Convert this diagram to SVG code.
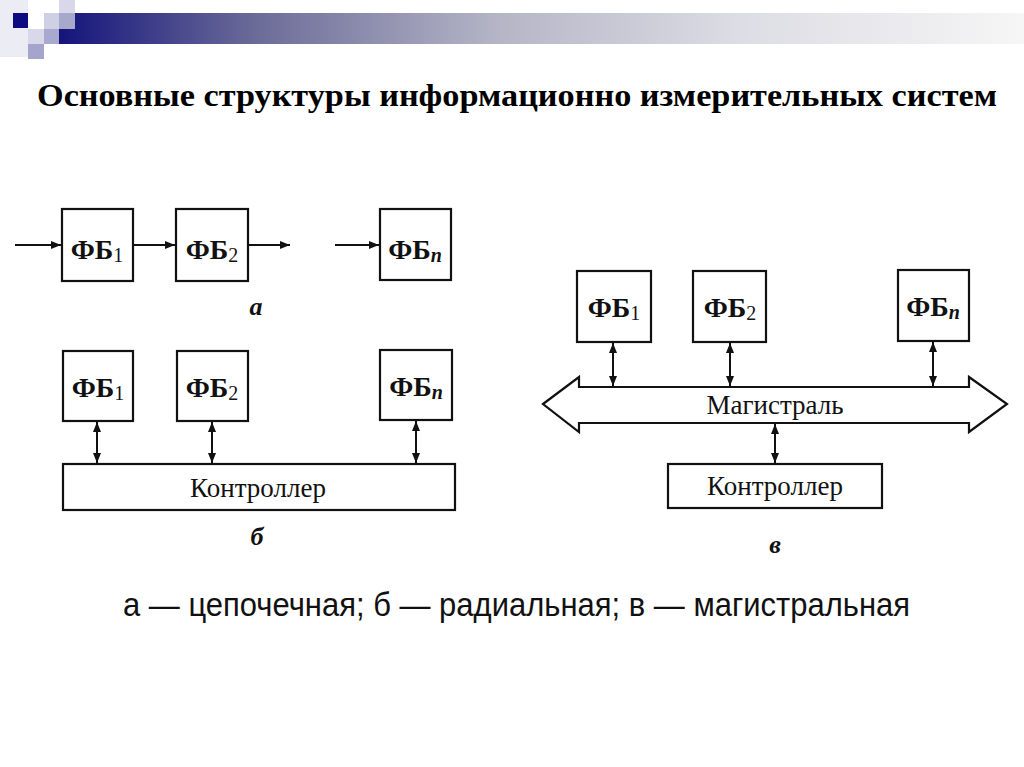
<svg xmlns="http://www.w3.org/2000/svg" width="1024" height="767" viewBox="0 0 1024 767">
<style>
.box{fill:#fff;stroke:#111;stroke-width:2.2}
.ln{stroke:#111;stroke-width:2;fill:none}
.fb{font-family:"Liberation Serif","Times New Roman",serif;font-size:28px;font-weight:bold;fill:#111}
.sub{font-size:20px;font-weight:normal}
.subn{font-size:20px;font-weight:bold;font-style:italic}
.lbl{font-family:"Liberation Serif","Times New Roman",serif;font-size:27px;fill:#111}
.cap{font-family:"Liberation Serif","Times New Roman",serif;font-size:26px;font-style:italic;font-weight:bold;fill:#111}
</style>
<defs>
<linearGradient id="bar" gradientUnits="userSpaceOnUse" x1="59" y1="0" x2="1024" y2="0">
<stop offset="0" stop-color="#14147c"/>
<stop offset="0.2" stop-color="#6a6a98"/>
<stop offset="0.45" stop-color="#b4b4c6"/>
<stop offset="0.7" stop-color="#dcdce4"/>
<stop offset="1" stop-color="#f6f6f6"/>
</linearGradient>
<marker id="ah" markerUnits="userSpaceOnUse" markerWidth="11" markerHeight="8" refX="10" refY="4" orient="auto-start-reverse">
<path d="M0,0 L10,4 L0,8 z" fill="#111"/>
</marker>
</defs>
<rect width="1024" height="767" fill="#fff"/>
<g id="header">
<rect x="0" y="0" width="28" height="57" fill="#ececf4"/>
<rect x="13" y="13" width="15" height="15" fill="#0c0c80"/>
<rect x="28" y="29" width="16" height="15" fill="#d8d8ea"/>
<rect x="28" y="44" width="16" height="15" fill="#a4a4cc"/>
<rect x="44" y="13" width="15" height="16" fill="#d0d0e4"/>
<rect x="44" y="29" width="15" height="15" fill="#a8a8d0"/>
<rect x="59" y="0" width="16" height="13" fill="#d8d8ea"/>
<rect x="59" y="13" width="16" height="16" fill="#a8a8cc"/>
<path d="M59,29 H75 V13 H1024 V44 H59 Z" fill="url(#bar)"/>
</g>
<text id="title" x="517" y="106" text-anchor="middle" textLength="960" lengthAdjust="spacingAndGlyphs" font-family="'Liberation Serif','Times New Roman',serif" font-size="31" font-weight="bold" fill="#000">Основные структуры информационно измерительных систем</text>

<g id="connectors">
<line class="ln" x1="15" y1="245" x2="61" y2="245" marker-end="url(#ah)"/>
<line class="ln" x1="133" y1="245" x2="175" y2="245" marker-end="url(#ah)"/>
<line class="ln" x1="248" y1="245" x2="290" y2="245" marker-end="url(#ah)"/>
<line class="ln" x1="335" y1="245" x2="379" y2="245" marker-end="url(#ah)"/>
<line class="ln" x1="97" y1="422" x2="97" y2="463" marker-start="url(#ah)" marker-end="url(#ah)"/>
<line class="ln" x1="212" y1="422" x2="212" y2="463" marker-start="url(#ah)" marker-end="url(#ah)"/>
<line class="ln" x1="416" y1="421" x2="416" y2="463" marker-start="url(#ah)" marker-end="url(#ah)"/>
<line class="ln" x1="613" y1="343" x2="613" y2="386" marker-start="url(#ah)" marker-end="url(#ah)"/>
<line class="ln" x1="730" y1="343" x2="730" y2="386" marker-start="url(#ah)" marker-end="url(#ah)"/>
<line class="ln" x1="933" y1="342" x2="933" y2="386" marker-start="url(#ah)" marker-end="url(#ah)"/>
<line class="ln" x1="775" y1="424" x2="775" y2="463" marker-start="url(#ah)" marker-end="url(#ah)"/>
</g>

<g id="a-fb1"><rect class="box" x="62" y="209" width="71" height="72"/><text class="fb" x="97" y="259" text-anchor="middle">ФБ<tspan class="sub" dy="3">1</tspan></text></g>
<g id="a-fb2"><rect class="box" x="176" y="209" width="72" height="72"/><text class="fb" x="212" y="259" text-anchor="middle">ФБ<tspan class="sub" dy="3">2</tspan></text></g>
<g id="a-fbn"><rect class="box" x="380" y="209" width="71" height="71"/><text class="fb" x="415" y="259" text-anchor="middle">ФБ<tspan class="subn" dy="3">n</tspan></text></g>
<text class="cap" x="256" y="315" text-anchor="middle">а</text>

<g id="b-fb1"><rect class="box" x="63" y="351" width="70" height="70"/><text class="fb" x="98" y="397" text-anchor="middle">ФБ<tspan class="sub" dy="3">1</tspan></text></g>
<g id="b-fb2"><rect class="box" x="177" y="351" width="71" height="70"/><text class="fb" x="212" y="397" text-anchor="middle">ФБ<tspan class="sub" dy="3">2</tspan></text></g>
<g id="b-fbn"><rect class="box" x="380" y="350" width="72" height="70"/><text class="fb" x="416" y="396" text-anchor="middle">ФБ<tspan class="subn" dy="3">n</tspan></text></g>
<g id="b-ctrl"><rect class="box" x="63" y="464" width="392" height="46"/><text class="lbl" x="258" y="497" text-anchor="middle">Контроллер</text></g>
<text class="cap" x="257" y="545" text-anchor="middle">б</text>

<g id="c-fb1"><rect class="box" x="577" y="271" width="74" height="71"/><text class="fb" x="614" y="317" text-anchor="middle">ФБ<tspan class="sub" dy="3">1</tspan></text></g>
<g id="c-fb2"><rect class="box" x="693" y="271" width="73" height="71"/><text class="fb" x="730" y="317" text-anchor="middle">ФБ<tspan class="sub" dy="3">2</tspan></text></g>
<g id="c-fbn"><rect class="box" x="898" y="270" width="71" height="71"/><text class="fb" x="933" y="316" text-anchor="middle">ФБ<tspan class="subn" dy="3">n</tspan></text></g>
<g id="c-bus"><polygon class="box" points="543,404 579,377 579,387 969,387 969,377 1007,404 969,432 969,423 579,423 579,432"/><text class="lbl" x="775" y="414" text-anchor="middle">Магистраль</text></g>
<g id="c-ctrl"><rect class="box" x="668" y="464" width="214" height="44"/><text class="lbl" x="775" y="495" text-anchor="middle">Контроллер</text></g>
<text class="cap" x="775" y="553" text-anchor="middle">в</text>

<text id="caption" x="123" y="616" textLength="787" lengthAdjust="spacingAndGlyphs" font-family="'Liberation Sans Narrow','Liberation Sans',Arial,sans-serif" font-size="33" fill="#111">а — цепочечная; б — радиальная; в — магистральная</text>
</svg>
